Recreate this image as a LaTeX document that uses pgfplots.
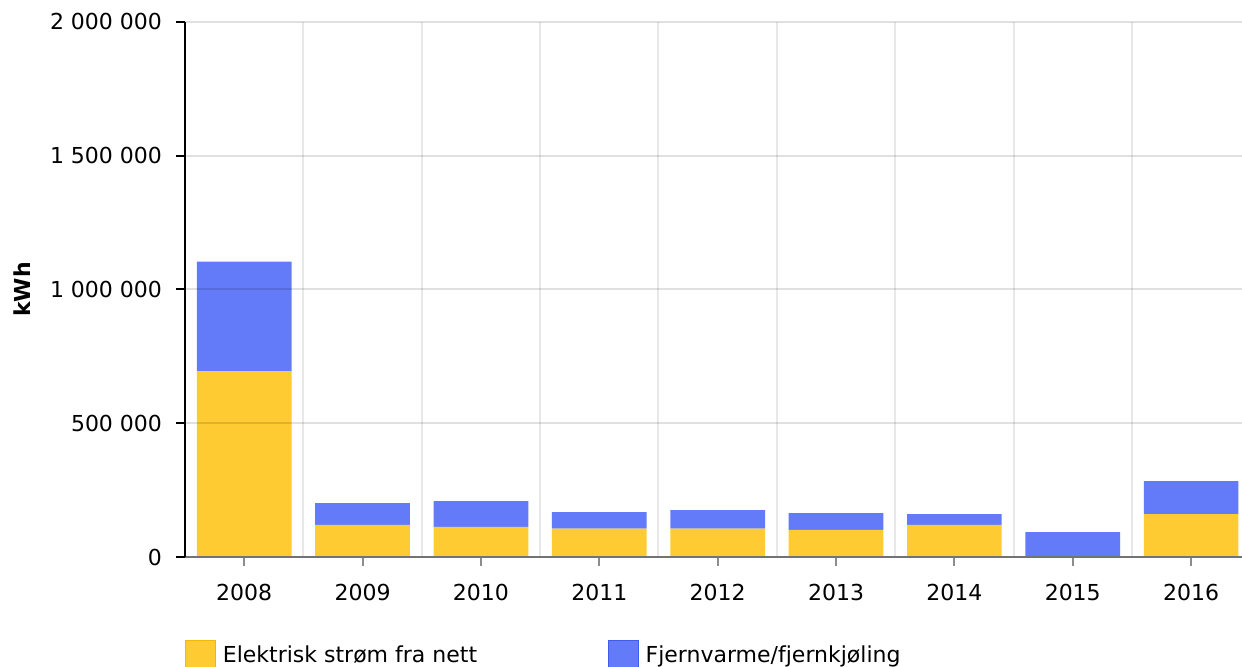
\documentclass[border=0pt]{standalone}
\usepackage{pgfplots}
\pgfplotsset{compat=1.18}
\usepackage{fontspec}
\setmainfont{DejaVu Sans}
\definecolor{cY}{HTML}{FFCB32}
\definecolor{cYd}{HTML}{F5B800}
\definecolor{cB}{HTML}{637BF9}
\definecolor{cBd}{HTML}{3F5CF0}
\begin{document}
\begin{tikzpicture}
\clip (0,0) rectangle (621pt,333.5pt);
\begin{axis}[
  at={(92.5pt,55pt)}, anchor=south west,
  scale only axis, width=528.5pt, height=267.5pt,
  font=\fontsize{11}{13.2}\selectfont,
  /pgf/number format/assume math mode=true,
  ybar stacked, bar width=0.8,
  xmin=2007.5, xmax=2016.43,
  ymin=0, ymax=2000000,
  xtick={2008,2009,2010,2011,2012,2013,2014,2015,2016},
  xticklabels={2008,2009,2010,2011,2012,2013,2014,2015,2016},
  minor xtick={2008.5,2009.5,2010.5,2011.5,2012.5,2013.5,2014.5,2015.5},
  ytick={0,500000,1000000,1500000,2000000},
  yticklabels={0,500 000,1 000 000,1 500 000,2 000 000},
  scaled y ticks=false,
  xticklabel style={yshift=-5.5pt},
  yticklabel style={xshift=-3.5pt},
  axis x line*=bottom, axis y line*=left,
  x axis line style={draw=black!55, line width=1pt, -},
  y axis line style={draw=black, line width=1pt, -},
  tick align=outside,
  major tick length=4.5pt, minor tick length=0pt,
  x tick style={draw=black!45, line width=1pt},
  y tick style={draw=black, line width=1pt},
  ymajorgrids, xminorgrids, xmajorgrids=false,
  major grid style={draw=black, opacity=0.12, line width=1pt},
  minor grid style={draw=black, opacity=0.09, line width=1pt},
  axis on top,
  ylabel={\textbf{kWh}},
  ylabel style={at={(axis description cs:0,0.5)}, anchor=center, xshift=0pt, yshift=81.5pt},
  legend style={at={(axis description cs:0,0)}, anchor=north west, yshift=-41.5pt,
    draw=none, fill=none, inner sep=0pt, legend columns=2,
    /tikz/every even column/.append style={column sep=63.5pt},
    font=\fontsize{11}{13.2}\selectfont},
  legend cell align=left,
]
\addplot[fill=cY, draw=none,
  legend image code/.code={\draw[fill=cY, draw=cYd, line width=0.5pt] (0pt,-7.5pt) rectangle (15pt,7.5pt); \path (16.5pt,0pt);}]
  coordinates {(2008,695000) (2009,120000) (2010,113000) (2011,106000) (2012,106000) (2013,101000) (2014,120000) (2015,0) (2016,160000)};
\addlegendentry{Elektrisk strøm fra nett}
\addplot[fill=cB, draw=none,
  legend image code/.code={\draw[fill=cB, draw=cBd, line width=0.5pt] (0pt,-7.5pt) rectangle (15pt,7.5pt); \path (16.5pt,0pt);}]
  coordinates {(2008,409000) (2009,81000) (2010,96000) (2011,62000) (2012,69000) (2013,63000) (2014,40000) (2015,93000) (2016,124000)};
\addlegendentry{Fjernvarme/fjernkjøling}
\end{axis}
\end{tikzpicture}
\end{document}
